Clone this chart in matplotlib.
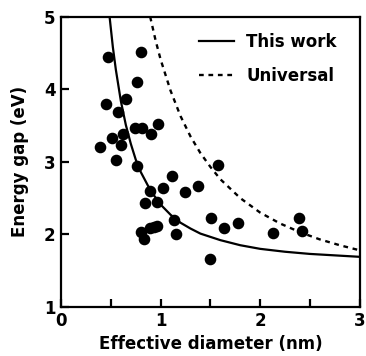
import matplotlib
matplotlib.use("Agg")
import matplotlib.pyplot as plt
from matplotlib.ticker import MultipleLocator

plt.rcParams["font.family"] = "DejaVu Sans"
plt.rcParams["font.weight"] = "bold"

# measured points (effective diameter nm, energy gap eV)
diam = [0.39, 0.47, 0.45, 0.51, 0.55, 0.57, 0.60, 0.62, 0.65, 0.76, 0.80,
        0.74, 0.81, 0.76, 0.90, 0.97, 0.89, 0.84, 0.96, 0.80, 0.83, 0.89,
        0.93, 0.96, 1.02, 1.11, 1.13, 1.15, 1.24, 1.38, 1.51, 1.64, 1.58,
        1.50, 1.78, 2.13, 2.39, 2.42]
gap = [3.20, 4.45, 3.80, 3.33, 3.02, 3.68, 3.23, 3.39, 3.87, 4.10, 4.52,
       3.47, 3.47, 2.94, 3.39, 3.52, 2.60, 2.43, 2.44, 2.03, 1.93, 2.09,
       2.10, 2.11, 2.64, 2.80, 2.20, 2.01, 2.59, 2.67, 2.23, 2.09, 2.95,
       1.66, 2.15, 2.02, 2.22, 2.05]

# "This work" curve
fit_d = [0.487, 0.52, 0.55, 0.60, 0.65, 0.70, 0.75, 0.80, 0.90, 1.00, 1.10,
         1.20, 1.30, 1.40, 1.60, 1.80, 2.00, 2.25, 2.50, 2.75, 3.00]
fit_e = [5.00, 4.58, 4.27, 3.84, 3.51, 3.25, 3.03, 2.86, 2.60, 2.41, 2.27,
         2.16, 2.08, 2.01, 1.92, 1.85, 1.80, 1.76, 1.73, 1.71, 1.69]

# "Universal" curve
uni_d = [0.895, 0.95, 1.00, 1.10, 1.20, 1.30, 1.40, 1.50, 1.60, 1.80, 2.00,
         2.20, 2.40, 2.60, 2.80, 3.00]
uni_e = [5.00, 4.67, 4.41, 3.98, 3.63, 3.35, 3.12, 2.93, 2.76, 2.50, 2.30,
         2.15, 2.03, 1.93, 1.85, 1.78]

fig = plt.figure(figsize=(3.66, 3.56), dpi=100)
ax = fig.add_axes([0.167, 0.138, 0.8156, 0.815])

ax.scatter(diam, gap, s=54, color="black", zorder=3)
ax.plot(fit_d, fit_e, "k-", lw=1.6, label="This work")
ax.plot(uni_d, uni_e, color="black", lw=1.7, ls=(0, (2.0, 2.0)), label="Universal")

ax.set_xlim(0, 3)
ax.set_ylim(1, 5)
ax.xaxis.set_major_locator(MultipleLocator(1))
ax.xaxis.set_minor_locator(MultipleLocator(0.5))
ax.yaxis.set_major_locator(MultipleLocator(1))
ax.tick_params(which="both", direction="in", length=6, width=1.6,
               labelsize=12, pad=4)
for s in ax.spines.values():
    s.set_linewidth(1.6)

ax.set_xlabel("Effective diameter (nm)", fontsize=12, fontweight="bold", labelpad=3)
ax.set_ylabel("Energy gap (eV)", fontsize=12, fontweight="bold", labelpad=11)

leg = ax.legend(loc="upper right", bbox_to_anchor=(0.945, 0.967),
                frameon=False, fontsize=12, handlelength=2.1,
                handletextpad=0.7, borderaxespad=0.0, labelspacing=0.95)

fig.savefig("out.png", dpi=100)
